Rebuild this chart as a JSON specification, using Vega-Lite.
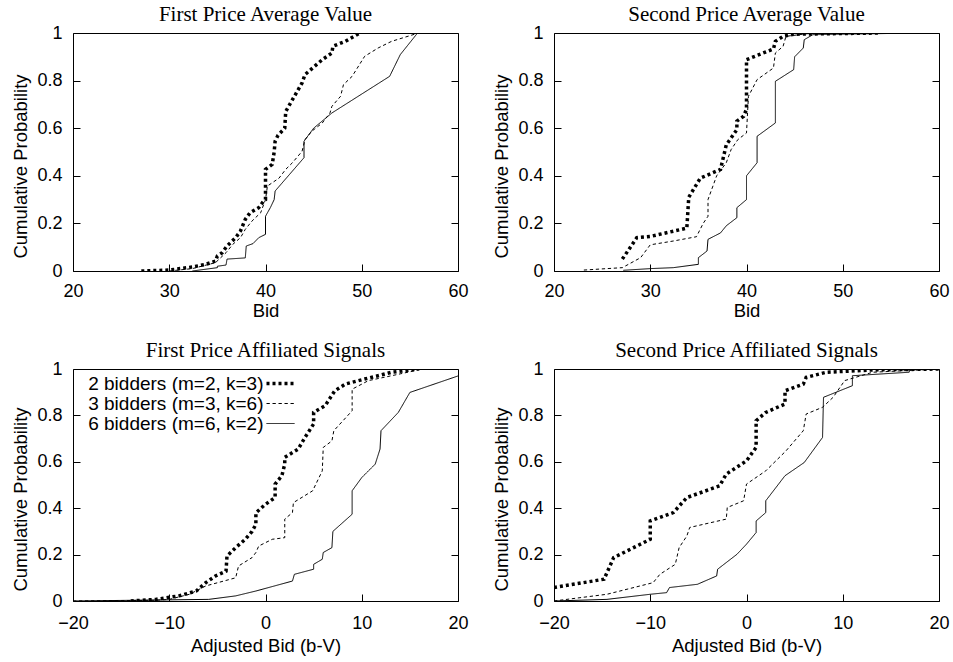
{
  "$schema": "https://vega.github.io/schema/vega-lite/v6.json",
  "padding": {"left": 10, "top": 3, "right": 5, "bottom": 2},
  "columns": 2,
  "spacing": {"row": 19, "column": 22},
  "config": {
    "view": {"stroke": "black", "strokeWidth": 1},
    "axis": {"labelFont": "Liberation Sans", "labelFontSize": 18, "titleFont": "Liberation Sans", "titleFontSize": 18.5, "titleFontWeight": "normal", "labelColor": "black", "titleColor": "black", "domain": false, "grid": false, "tickColor": "black", "tickSize": -7, "tickWidth": 1, "labelFlush": false},
    "title": {"font": "Liberation Serif", "fontSize": 21, "fontWeight": "normal", "color": "black", "offset": -1, "frame": "group", "anchor": "middle"}
  },
  "resolve": {"scale": {"x": "independent", "y": "independent"}, "legend": {"strokeDash": "independent", "strokeWidth": "independent"}},
  "datasets": {
    "fpav": [
      {"bidders": "2 bidders (m=2, k=3)", "bid": 27.1, "p": 0},
      {"bidders": "2 bidders (m=2, k=3)", "bid": 30, "p": 0.004},
      {"bidders": "2 bidders (m=2, k=3)", "bid": 32.4, "p": 0.017},
      {"bidders": "2 bidders (m=2, k=3)", "bid": 33.8, "p": 0.028},
      {"bidders": "2 bidders (m=2, k=3)", "bid": 34.8, "p": 0.042},
      {"bidders": "2 bidders (m=2, k=3)", "bid": 35, "p": 0.063},
      {"bidders": "2 bidders (m=2, k=3)", "bid": 35.5, "p": 0.077},
      {"bidders": "2 bidders (m=2, k=3)", "bid": 36, "p": 0.105},
      {"bidders": "2 bidders (m=2, k=3)", "bid": 36.9, "p": 0.14},
      {"bidders": "2 bidders (m=2, k=3)", "bid": 37.4, "p": 0.168},
      {"bidders": "2 bidders (m=2, k=3)", "bid": 37.9, "p": 0.217},
      {"bidders": "2 bidders (m=2, k=3)", "bid": 38.4, "p": 0.245},
      {"bidders": "2 bidders (m=2, k=3)", "bid": 39.3, "p": 0.266},
      {"bidders": "2 bidders (m=2, k=3)", "bid": 39.8, "p": 0.294},
      {"bidders": "2 bidders (m=2, k=3)", "bid": 40, "p": 0.3},
      {"bidders": "2 bidders (m=2, k=3)", "bid": 40, "p": 0.427},
      {"bidders": "2 bidders (m=2, k=3)", "bid": 40.7, "p": 0.448},
      {"bidders": "2 bidders (m=2, k=3)", "bid": 40.9, "p": 0.5},
      {"bidders": "2 bidders (m=2, k=3)", "bid": 41, "p": 0.545},
      {"bidders": "2 bidders (m=2, k=3)", "bid": 41.3, "p": 0.57},
      {"bidders": "2 bidders (m=2, k=3)", "bid": 42, "p": 0.6},
      {"bidders": "2 bidders (m=2, k=3)", "bid": 42.1, "p": 0.67},
      {"bidders": "2 bidders (m=2, k=3)", "bid": 42.8, "p": 0.72},
      {"bidders": "2 bidders (m=2, k=3)", "bid": 43.8, "p": 0.79},
      {"bidders": "2 bidders (m=2, k=3)", "bid": 44.1, "p": 0.825},
      {"bidders": "2 bidders (m=2, k=3)", "bid": 45.9, "p": 0.888},
      {"bidders": "2 bidders (m=2, k=3)", "bid": 46.9, "p": 0.916},
      {"bidders": "2 bidders (m=2, k=3)", "bid": 47, "p": 0.944},
      {"bidders": "2 bidders (m=2, k=3)", "bid": 48.3, "p": 0.965},
      {"bidders": "2 bidders (m=2, k=3)", "bid": 49.8, "p": 1},
      {"bidders": "3 bidders (m=3, k=6)", "bid": 30, "p": 0},
      {"bidders": "3 bidders (m=3, k=6)", "bid": 32.4, "p": 0.01},
      {"bidders": "3 bidders (m=3, k=6)", "bid": 34.8, "p": 0.035},
      {"bidders": "3 bidders (m=3, k=6)", "bid": 35.9, "p": 0.077},
      {"bidders": "3 bidders (m=3, k=6)", "bid": 36.6, "p": 0.112},
      {"bidders": "3 bidders (m=3, k=6)", "bid": 37.4, "p": 0.14},
      {"bidders": "3 bidders (m=3, k=6)", "bid": 37.9, "p": 0.175},
      {"bidders": "3 bidders (m=3, k=6)", "bid": 38.6, "p": 0.21},
      {"bidders": "3 bidders (m=3, k=6)", "bid": 39.5, "p": 0.245},
      {"bidders": "3 bidders (m=3, k=6)", "bid": 40, "p": 0.3},
      {"bidders": "3 bidders (m=3, k=6)", "bid": 40.2, "p": 0.357},
      {"bidders": "3 bidders (m=3, k=6)", "bid": 41.4, "p": 0.39},
      {"bidders": "3 bidders (m=3, k=6)", "bid": 42.1, "p": 0.427},
      {"bidders": "3 bidders (m=3, k=6)", "bid": 42.8, "p": 0.455},
      {"bidders": "3 bidders (m=3, k=6)", "bid": 43.8, "p": 0.503},
      {"bidders": "3 bidders (m=3, k=6)", "bid": 44.1, "p": 0.552},
      {"bidders": "3 bidders (m=3, k=6)", "bid": 44.8, "p": 0.587},
      {"bidders": "3 bidders (m=3, k=6)", "bid": 45.9, "p": 0.622},
      {"bidders": "3 bidders (m=3, k=6)", "bid": 46.7, "p": 0.664},
      {"bidders": "3 bidders (m=3, k=6)", "bid": 46.9, "p": 0.692},
      {"bidders": "3 bidders (m=3, k=6)", "bid": 47.8, "p": 0.734},
      {"bidders": "3 bidders (m=3, k=6)", "bid": 48.1, "p": 0.783},
      {"bidders": "3 bidders (m=3, k=6)", "bid": 49, "p": 0.818},
      {"bidders": "3 bidders (m=3, k=6)", "bid": 50.3, "p": 0.902},
      {"bidders": "3 bidders (m=3, k=6)", "bid": 51.7, "p": 0.937},
      {"bidders": "3 bidders (m=3, k=6)", "bid": 53.1, "p": 0.965},
      {"bidders": "3 bidders (m=3, k=6)", "bid": 55.9, "p": 1},
      {"bidders": "6 bidders (m=6, k=2)", "bid": 32.4, "p": 0},
      {"bidders": "6 bidders (m=6, k=2)", "bid": 35, "p": 0.014},
      {"bidders": "6 bidders (m=6, k=2)", "bid": 35, "p": 0.02},
      {"bidders": "6 bidders (m=6, k=2)", "bid": 35.9, "p": 0.025},
      {"bidders": "6 bidders (m=6, k=2)", "bid": 36, "p": 0.05},
      {"bidders": "6 bidders (m=6, k=2)", "bid": 37.9, "p": 0.055},
      {"bidders": "6 bidders (m=6, k=2)", "bid": 38, "p": 0.105},
      {"bidders": "6 bidders (m=6, k=2)", "bid": 38.7, "p": 0.115},
      {"bidders": "6 bidders (m=6, k=2)", "bid": 39.3, "p": 0.14},
      {"bidders": "6 bidders (m=6, k=2)", "bid": 40, "p": 0.154},
      {"bidders": "6 bidders (m=6, k=2)", "bid": 40, "p": 0.23},
      {"bidders": "6 bidders (m=6, k=2)", "bid": 40.5, "p": 0.266},
      {"bidders": "6 bidders (m=6, k=2)", "bid": 40.9, "p": 0.3},
      {"bidders": "6 bidders (m=6, k=2)", "bid": 41, "p": 0.336},
      {"bidders": "6 bidders (m=6, k=2)", "bid": 44, "p": 0.476},
      {"bidders": "6 bidders (m=6, k=2)", "bid": 44, "p": 0.545},
      {"bidders": "6 bidders (m=6, k=2)", "bid": 45, "p": 0.6},
      {"bidders": "6 bidders (m=6, k=2)", "bid": 46.9, "p": 0.664},
      {"bidders": "6 bidders (m=6, k=2)", "bid": 52.9, "p": 0.818},
      {"bidders": "6 bidders (m=6, k=2)", "bid": 54, "p": 0.909},
      {"bidders": "6 bidders (m=6, k=2)", "bid": 55.8, "p": 1}
    ],
    "spav": [
      {"bidders": "2 bidders (m=2, k=3)", "bid": 27.1, "p": 0.05},
      {"bidders": "2 bidders (m=2, k=3)", "bid": 28.6, "p": 0.14},
      {"bidders": "2 bidders (m=2, k=3)", "bid": 30, "p": 0.145},
      {"bidders": "2 bidders (m=2, k=3)", "bid": 33.8, "p": 0.18},
      {"bidders": "2 bidders (m=2, k=3)", "bid": 34, "p": 0.31},
      {"bidders": "2 bidders (m=2, k=3)", "bid": 35.2, "p": 0.39},
      {"bidders": "2 bidders (m=2, k=3)", "bid": 37.3, "p": 0.427},
      {"bidders": "2 bidders (m=2, k=3)", "bid": 37.9, "p": 0.53},
      {"bidders": "2 bidders (m=2, k=3)", "bid": 39, "p": 0.594},
      {"bidders": "2 bidders (m=2, k=3)", "bid": 39, "p": 0.63},
      {"bidders": "2 bidders (m=2, k=3)", "bid": 39.7, "p": 0.65},
      {"bidders": "2 bidders (m=2, k=3)", "bid": 40, "p": 0.68},
      {"bidders": "2 bidders (m=2, k=3)", "bid": 40, "p": 0.888},
      {"bidders": "2 bidders (m=2, k=3)", "bid": 42.8, "p": 0.933},
      {"bidders": "2 bidders (m=2, k=3)", "bid": 43, "p": 0.965},
      {"bidders": "2 bidders (m=2, k=3)", "bid": 43.8, "p": 0.986},
      {"bidders": "2 bidders (m=2, k=3)", "bid": 44.9, "p": 0.995},
      {"bidders": "2 bidders (m=2, k=3)", "bid": 53.7, "p": 1},
      {"bidders": "3 bidders (m=3, k=6)", "bid": 23.1, "p": 0.004},
      {"bidders": "3 bidders (m=3, k=6)", "bid": 27.1, "p": 0.014},
      {"bidders": "3 bidders (m=3, k=6)", "bid": 29, "p": 0.056},
      {"bidders": "3 bidders (m=3, k=6)", "bid": 30, "p": 0.11},
      {"bidders": "3 bidders (m=3, k=6)", "bid": 32.4, "p": 0.126},
      {"bidders": "3 bidders (m=3, k=6)", "bid": 34.8, "p": 0.144},
      {"bidders": "3 bidders (m=3, k=6)", "bid": 35.5, "p": 0.2},
      {"bidders": "3 bidders (m=3, k=6)", "bid": 36, "p": 0.23},
      {"bidders": "3 bidders (m=3, k=6)", "bid": 36, "p": 0.3},
      {"bidders": "3 bidders (m=3, k=6)", "bid": 36.9, "p": 0.4},
      {"bidders": "3 bidders (m=3, k=6)", "bid": 37.9, "p": 0.455},
      {"bidders": "3 bidders (m=3, k=6)", "bid": 38.4, "p": 0.51},
      {"bidders": "3 bidders (m=3, k=6)", "bid": 39.1, "p": 0.552},
      {"bidders": "3 bidders (m=3, k=6)", "bid": 40, "p": 0.58},
      {"bidders": "3 bidders (m=3, k=6)", "bid": 40.2, "p": 0.734},
      {"bidders": "3 bidders (m=3, k=6)", "bid": 41.1, "p": 0.804},
      {"bidders": "3 bidders (m=3, k=6)", "bid": 42.8, "p": 0.853},
      {"bidders": "3 bidders (m=3, k=6)", "bid": 43, "p": 0.916},
      {"bidders": "3 bidders (m=3, k=6)", "bid": 43.8, "p": 0.944},
      {"bidders": "3 bidders (m=3, k=6)", "bid": 44.1, "p": 0.986},
      {"bidders": "3 bidders (m=3, k=6)", "bid": 46.3, "p": 0.997},
      {"bidders": "3 bidders (m=3, k=6)", "bid": 53, "p": 1},
      {"bidders": "6 bidders (m=6, k=2)", "bid": 27.2, "p": 0.003},
      {"bidders": "6 bidders (m=6, k=2)", "bid": 30, "p": 0.01},
      {"bidders": "6 bidders (m=6, k=2)", "bid": 32.4, "p": 0.014},
      {"bidders": "6 bidders (m=6, k=2)", "bid": 35, "p": 0.028},
      {"bidders": "6 bidders (m=6, k=2)", "bid": 35, "p": 0.056},
      {"bidders": "6 bidders (m=6, k=2)", "bid": 35.9, "p": 0.084},
      {"bidders": "6 bidders (m=6, k=2)", "bid": 36, "p": 0.133},
      {"bidders": "6 bidders (m=6, k=2)", "bid": 37.3, "p": 0.16},
      {"bidders": "6 bidders (m=6, k=2)", "bid": 37.9, "p": 0.19},
      {"bidders": "6 bidders (m=6, k=2)", "bid": 39, "p": 0.224},
      {"bidders": "6 bidders (m=6, k=2)", "bid": 39, "p": 0.266},
      {"bidders": "6 bidders (m=6, k=2)", "bid": 40, "p": 0.3},
      {"bidders": "6 bidders (m=6, k=2)", "bid": 40, "p": 0.4},
      {"bidders": "6 bidders (m=6, k=2)", "bid": 41.1, "p": 0.455},
      {"bidders": "6 bidders (m=6, k=2)", "bid": 41.1, "p": 0.566},
      {"bidders": "6 bidders (m=6, k=2)", "bid": 43, "p": 0.622},
      {"bidders": "6 bidders (m=6, k=2)", "bid": 43, "p": 0.797},
      {"bidders": "6 bidders (m=6, k=2)", "bid": 44.9, "p": 0.846},
      {"bidders": "6 bidders (m=6, k=2)", "bid": 45, "p": 0.9},
      {"bidders": "6 bidders (m=6, k=2)", "bid": 45.9, "p": 0.937},
      {"bidders": "6 bidders (m=6, k=2)", "bid": 46, "p": 0.972},
      {"bidders": "6 bidders (m=6, k=2)", "bid": 46.9, "p": 0.993},
      {"bidders": "6 bidders (m=6, k=2)", "bid": 58, "p": 1}
    ],
    "fpas": [
      {"bidders": "2 bidders (m=2, k=3)", "bid": -14, "p": 0},
      {"bidders": "2 bidders (m=2, k=3)", "bid": -11.4, "p": 0.007},
      {"bidders": "2 bidders (m=2, k=3)", "bid": -9, "p": 0.022},
      {"bidders": "2 bidders (m=2, k=3)", "bid": -7.2, "p": 0.043},
      {"bidders": "2 bidders (m=2, k=3)", "bid": -6.2, "p": 0.079},
      {"bidders": "2 bidders (m=2, k=3)", "bid": -5.2, "p": 0.108},
      {"bidders": "2 bidders (m=2, k=3)", "bid": -4.1, "p": 0.129},
      {"bidders": "2 bidders (m=2, k=3)", "bid": -4, "p": 0.194},
      {"bidders": "2 bidders (m=2, k=3)", "bid": -3.1, "p": 0.23},
      {"bidders": "2 bidders (m=2, k=3)", "bid": -2.1, "p": 0.266},
      {"bidders": "2 bidders (m=2, k=3)", "bid": -1.4, "p": 0.3},
      {"bidders": "2 bidders (m=2, k=3)", "bid": -1, "p": 0.33},
      {"bidders": "2 bidders (m=2, k=3)", "bid": -1, "p": 0.38},
      {"bidders": "2 bidders (m=2, k=3)", "bid": 0, "p": 0.417},
      {"bidders": "2 bidders (m=2, k=3)", "bid": 1, "p": 0.446},
      {"bidders": "2 bidders (m=2, k=3)", "bid": 1, "p": 0.504},
      {"bidders": "2 bidders (m=2, k=3)", "bid": 1.7, "p": 0.54},
      {"bidders": "2 bidders (m=2, k=3)", "bid": 2, "p": 0.59},
      {"bidders": "2 bidders (m=2, k=3)", "bid": 2, "p": 0.619},
      {"bidders": "2 bidders (m=2, k=3)", "bid": 3.4, "p": 0.655},
      {"bidders": "2 bidders (m=2, k=3)", "bid": 4.1, "p": 0.705},
      {"bidders": "2 bidders (m=2, k=3)", "bid": 5, "p": 0.763},
      {"bidders": "2 bidders (m=2, k=3)", "bid": 5, "p": 0.813},
      {"bidders": "2 bidders (m=2, k=3)", "bid": 6.2, "p": 0.842},
      {"bidders": "2 bidders (m=2, k=3)", "bid": 7.2, "p": 0.906},
      {"bidders": "2 bidders (m=2, k=3)", "bid": 8.3, "p": 0.935},
      {"bidders": "2 bidders (m=2, k=3)", "bid": 10.3, "p": 0.957},
      {"bidders": "2 bidders (m=2, k=3)", "bid": 11.7, "p": 0.971},
      {"bidders": "2 bidders (m=2, k=3)", "bid": 13.1, "p": 0.986},
      {"bidders": "2 bidders (m=2, k=3)", "bid": 15.9, "p": 1},
      {"bidders": "3 bidders (m=3, k=6)", "bid": -20, "p": 0},
      {"bidders": "3 bidders (m=3, k=6)", "bid": -11.4, "p": 0.003},
      {"bidders": "3 bidders (m=3, k=6)", "bid": -10, "p": 0.007},
      {"bidders": "3 bidders (m=3, k=6)", "bid": -7.9, "p": 0.029},
      {"bidders": "3 bidders (m=3, k=6)", "bid": -6.2, "p": 0.065},
      {"bidders": "3 bidders (m=3, k=6)", "bid": -3.1, "p": 0.1},
      {"bidders": "3 bidders (m=3, k=6)", "bid": -2.8, "p": 0.151},
      {"bidders": "3 bidders (m=3, k=6)", "bid": -1.4, "p": 0.187},
      {"bidders": "3 bidders (m=3, k=6)", "bid": -1, "p": 0.209},
      {"bidders": "3 bidders (m=3, k=6)", "bid": -0.7, "p": 0.237},
      {"bidders": "3 bidders (m=3, k=6)", "bid": 0.7, "p": 0.266},
      {"bidders": "3 bidders (m=3, k=6)", "bid": 2, "p": 0.273},
      {"bidders": "3 bidders (m=3, k=6)", "bid": 2, "p": 0.353},
      {"bidders": "3 bidders (m=3, k=6)", "bid": 2.8, "p": 0.381},
      {"bidders": "3 bidders (m=3, k=6)", "bid": 2.9, "p": 0.424},
      {"bidders": "3 bidders (m=3, k=6)", "bid": 4.9, "p": 0.475},
      {"bidders": "3 bidders (m=3, k=6)", "bid": 5.9, "p": 0.561},
      {"bidders": "3 bidders (m=3, k=6)", "bid": 6, "p": 0.662},
      {"bidders": "3 bidders (m=3, k=6)", "bid": 6.9, "p": 0.69},
      {"bidders": "3 bidders (m=3, k=6)", "bid": 7.1, "p": 0.734},
      {"bidders": "3 bidders (m=3, k=6)", "bid": 9, "p": 0.82},
      {"bidders": "3 bidders (m=3, k=6)", "bid": 9, "p": 0.913},
      {"bidders": "3 bidders (m=3, k=6)", "bid": 10.7, "p": 0.95},
      {"bidders": "3 bidders (m=3, k=6)", "bid": 13.1, "p": 0.971},
      {"bidders": "3 bidders (m=3, k=6)", "bid": 15.9, "p": 0.996},
      {"bidders": "3 bidders (m=3, k=6)", "bid": 16.6, "p": 1},
      {"bidders": "6 bidders (m=6, k=2)", "bid": -20, "p": 0},
      {"bidders": "6 bidders (m=6, k=2)", "bid": -5.9, "p": 0.007},
      {"bidders": "6 bidders (m=6, k=2)", "bid": -3.1, "p": 0.022},
      {"bidders": "6 bidders (m=6, k=2)", "bid": -1, "p": 0.043},
      {"bidders": "6 bidders (m=6, k=2)", "bid": 2.8, "p": 0.086},
      {"bidders": "6 bidders (m=6, k=2)", "bid": 3, "p": 0.115},
      {"bidders": "6 bidders (m=6, k=2)", "bid": 5, "p": 0.137},
      {"bidders": "6 bidders (m=6, k=2)", "bid": 5, "p": 0.158},
      {"bidders": "6 bidders (m=6, k=2)", "bid": 5.9, "p": 0.18},
      {"bidders": "6 bidders (m=6, k=2)", "bid": 6, "p": 0.209},
      {"bidders": "6 bidders (m=6, k=2)", "bid": 6.9, "p": 0.23},
      {"bidders": "6 bidders (m=6, k=2)", "bid": 7, "p": 0.3},
      {"bidders": "6 bidders (m=6, k=2)", "bid": 9, "p": 0.374},
      {"bidders": "6 bidders (m=6, k=2)", "bid": 9, "p": 0.475},
      {"bidders": "6 bidders (m=6, k=2)", "bid": 10, "p": 0.532},
      {"bidders": "6 bidders (m=6, k=2)", "bid": 11.4, "p": 0.59},
      {"bidders": "6 bidders (m=6, k=2)", "bid": 11.9, "p": 0.655},
      {"bidders": "6 bidders (m=6, k=2)", "bid": 12, "p": 0.734},
      {"bidders": "6 bidders (m=6, k=2)", "bid": 13.8, "p": 0.813},
      {"bidders": "6 bidders (m=6, k=2)", "bid": 15, "p": 0.899},
      {"bidders": "6 bidders (m=6, k=2)", "bid": 20, "p": 0.97}
    ],
    "spas": [
      {"bidders": "2 bidders (m=2, k=3)", "bid": -20, "p": 0.058},
      {"bidders": "2 bidders (m=2, k=3)", "bid": -14.8, "p": 0.094},
      {"bidders": "2 bidders (m=2, k=3)", "bid": -13.8, "p": 0.187},
      {"bidders": "2 bidders (m=2, k=3)", "bid": -10, "p": 0.266},
      {"bidders": "2 bidders (m=2, k=3)", "bid": -10, "p": 0.345},
      {"bidders": "2 bidders (m=2, k=3)", "bid": -7.6, "p": 0.381},
      {"bidders": "2 bidders (m=2, k=3)", "bid": -6.2, "p": 0.446},
      {"bidders": "2 bidders (m=2, k=3)", "bid": -2.8, "p": 0.496},
      {"bidders": "2 bidders (m=2, k=3)", "bid": -2.1, "p": 0.547},
      {"bidders": "2 bidders (m=2, k=3)", "bid": 0, "p": 0.604},
      {"bidders": "2 bidders (m=2, k=3)", "bid": 1, "p": 0.662},
      {"bidders": "2 bidders (m=2, k=3)", "bid": 1, "p": 0.777},
      {"bidders": "2 bidders (m=2, k=3)", "bid": 2, "p": 0.813},
      {"bidders": "2 bidders (m=2, k=3)", "bid": 4, "p": 0.849},
      {"bidders": "2 bidders (m=2, k=3)", "bid": 4, "p": 0.906},
      {"bidders": "2 bidders (m=2, k=3)", "bid": 5.9, "p": 0.935},
      {"bidders": "2 bidders (m=2, k=3)", "bid": 6.2, "p": 0.964},
      {"bidders": "2 bidders (m=2, k=3)", "bid": 8.3, "p": 0.986},
      {"bidders": "2 bidders (m=2, k=3)", "bid": 13.1, "p": 0.996},
      {"bidders": "2 bidders (m=2, k=3)", "bid": 20, "p": 1},
      {"bidders": "3 bidders (m=3, k=6)", "bid": -20, "p": 0},
      {"bidders": "3 bidders (m=3, k=6)", "bid": -14.5, "p": 0.029},
      {"bidders": "3 bidders (m=3, k=6)", "bid": -9.7, "p": 0.079},
      {"bidders": "3 bidders (m=3, k=6)", "bid": -9, "p": 0.115},
      {"bidders": "3 bidders (m=3, k=6)", "bid": -7.4, "p": 0.158},
      {"bidders": "3 bidders (m=3, k=6)", "bid": -7, "p": 0.23},
      {"bidders": "3 bidders (m=3, k=6)", "bid": -6.2, "p": 0.28},
      {"bidders": "3 bidders (m=3, k=6)", "bid": -5.9, "p": 0.317},
      {"bidders": "3 bidders (m=3, k=6)", "bid": -2.1, "p": 0.353},
      {"bidders": "3 bidders (m=3, k=6)", "bid": -2, "p": 0.403},
      {"bidders": "3 bidders (m=3, k=6)", "bid": -0.3, "p": 0.432},
      {"bidders": "3 bidders (m=3, k=6)", "bid": 0, "p": 0.504},
      {"bidders": "3 bidders (m=3, k=6)", "bid": 2, "p": 0.561},
      {"bidders": "3 bidders (m=3, k=6)", "bid": 4.1, "p": 0.647},
      {"bidders": "3 bidders (m=3, k=6)", "bid": 5.9, "p": 0.734},
      {"bidders": "3 bidders (m=3, k=6)", "bid": 6.2, "p": 0.806},
      {"bidders": "3 bidders (m=3, k=6)", "bid": 7.9, "p": 0.835},
      {"bidders": "3 bidders (m=3, k=6)", "bid": 9, "p": 0.878},
      {"bidders": "3 bidders (m=3, k=6)", "bid": 10.2, "p": 0.95},
      {"bidders": "3 bidders (m=3, k=6)", "bid": 13.1, "p": 0.986},
      {"bidders": "3 bidders (m=3, k=6)", "bid": 20, "p": 1},
      {"bidders": "6 bidders (m=6, k=2)", "bid": -20, "p": 0},
      {"bidders": "6 bidders (m=6, k=2)", "bid": -14.5, "p": 0.007},
      {"bidders": "6 bidders (m=6, k=2)", "bid": -10, "p": 0.029},
      {"bidders": "6 bidders (m=6, k=2)", "bid": -8.3, "p": 0.036},
      {"bidders": "6 bidders (m=6, k=2)", "bid": -8, "p": 0.058},
      {"bidders": "6 bidders (m=6, k=2)", "bid": -5.1, "p": 0.072},
      {"bidders": "6 bidders (m=6, k=2)", "bid": -3.1, "p": 0.108},
      {"bidders": "6 bidders (m=6, k=2)", "bid": -3, "p": 0.137},
      {"bidders": "6 bidders (m=6, k=2)", "bid": -1, "p": 0.201},
      {"bidders": "6 bidders (m=6, k=2)", "bid": 0, "p": 0.245},
      {"bidders": "6 bidders (m=6, k=2)", "bid": 1, "p": 0.295},
      {"bidders": "6 bidders (m=6, k=2)", "bid": 1, "p": 0.345},
      {"bidders": "6 bidders (m=6, k=2)", "bid": 2, "p": 0.381},
      {"bidders": "6 bidders (m=6, k=2)", "bid": 2, "p": 0.432},
      {"bidders": "6 bidders (m=6, k=2)", "bid": 4, "p": 0.54},
      {"bidders": "6 bidders (m=6, k=2)", "bid": 6, "p": 0.597},
      {"bidders": "6 bidders (m=6, k=2)", "bid": 7.9, "p": 0.705},
      {"bidders": "6 bidders (m=6, k=2)", "bid": 8, "p": 0.878},
      {"bidders": "6 bidders (m=6, k=2)", "bid": 11, "p": 0.928},
      {"bidders": "6 bidders (m=6, k=2)", "bid": 11, "p": 0.971},
      {"bidders": "6 bidders (m=6, k=2)", "bid": 16.9, "p": 0.986},
      {"bidders": "6 bidders (m=6, k=2)", "bid": 17, "p": 1},
      {"bidders": "6 bidders (m=6, k=2)", "bid": 20, "p": 1}
    ]
  },
  "concat": [
    {
      "width": 385, "height": 238,
      "title": "First Price Average Value",
      "data": {"name": "fpav"},
      "layer": [
        {
          "mark": {"type": "line", "color": "black", "clip": true, "strokeCap": "butt"},
          "encoding": {
            "x": {"field": "bid", "type": "quantitative", "scale": {"domain": [20, 60], "nice": false, "zero": false}, "axis": {"title": "Bid", "values": [20, 30, 40, 50, 60], "format": "d", "labelPadding": 18, "minExtent": 28, "maxExtent": 28, "titlePadding": 2}},
            "y": {"field": "p", "type": "quantitative", "scale": {"domain": [0, 1], "nice": false}, "axis": {"orient": "left", "title": "Cumulative Probability", "values": [0, 0.2, 0.4, 0.6, 0.8, 1], "format": "~g", "labelPadding": 18, "minExtent": 36, "maxExtent": 36, "titlePadding": 7, "titleY": 133}},
            "strokeDash": {"field": "bidders", "type": "nominal", "scale": {"domain": ["2 bidders (m=2, k=3)", "3 bidders (m=3, k=6)", "6 bidders (m=6, k=2)"], "range": [[3, 3], [3.3, 2.7], [1, 0]]}, "legend": null},
            "strokeWidth": {"field": "bidders", "type": "nominal", "scale": {"type": "ordinal", "domain": ["2 bidders (m=2, k=3)", "3 bidders (m=3, k=6)", "6 bidders (m=6, k=2)"], "range": [3.5, 1, 1]}, "legend": null}
          }
        },
        {
          "mark": {"type": "point", "opacity": 0},
          "encoding": {
            "x": {"field": "bid", "type": "quantitative"},
            "y": {"field": "p", "type": "quantitative", "axis": {"orient": "right", "labels": false, "title": null, "values": [0, 0.2, 0.4, 0.6, 0.8, 1], "minExtent": 0, "maxExtent": 0}}
          }
        }
      ],
      "resolve": {"axis": {"y": "independent"}}
    },
    {
      "width": 385, "height": 238,
      "title": "Second Price Average Value",
      "data": {"name": "spav"},
      "layer": [
        {
          "mark": {"type": "line", "color": "black", "clip": true, "strokeCap": "butt"},
          "encoding": {
            "x": {"field": "bid", "type": "quantitative", "scale": {"domain": [20, 60], "nice": false, "zero": false}, "axis": {"title": "Bid", "values": [20, 30, 40, 50, 60], "format": "d", "labelPadding": 18, "minExtent": 28, "maxExtent": 28, "titlePadding": 2}},
            "y": {"field": "p", "type": "quantitative", "scale": {"domain": [0, 1], "nice": false}, "axis": {"orient": "left", "title": "Cumulative Probability", "values": [0, 0.2, 0.4, 0.6, 0.8, 1], "format": "~g", "labelPadding": 18, "minExtent": 36, "maxExtent": 36, "titlePadding": 7, "titleY": 133}},
            "strokeDash": {"field": "bidders", "type": "nominal", "scale": {"domain": ["2 bidders (m=2, k=3)", "3 bidders (m=3, k=6)", "6 bidders (m=6, k=2)"], "range": [[3, 3], [3.3, 2.7], [1, 0]]}, "legend": null},
            "strokeWidth": {"field": "bidders", "type": "nominal", "scale": {"type": "ordinal", "domain": ["2 bidders (m=2, k=3)", "3 bidders (m=3, k=6)", "6 bidders (m=6, k=2)"], "range": [3.5, 1, 1]}, "legend": null}
          }
        },
        {
          "mark": {"type": "point", "opacity": 0},
          "encoding": {
            "x": {"field": "bid", "type": "quantitative"},
            "y": {"field": "p", "type": "quantitative", "axis": {"orient": "right", "labels": false, "title": null, "values": [0, 0.2, 0.4, 0.6, 0.8, 1], "minExtent": 0, "maxExtent": 0}}
          }
        }
      ],
      "resolve": {"axis": {"y": "independent"}}
    },
    {
      "width": 385, "height": 232,
      "title": "First Price Affiliated Signals",
      "data": {"name": "fpas"},
      "layer": [
        {
          "mark": {"type": "line", "color": "black", "clip": true, "strokeCap": "butt"},
          "encoding": {
            "x": {"field": "bid", "type": "quantitative", "scale": {"domain": [-20, 20], "nice": false, "zero": false}, "axis": {"title": "Adjusted Bid (b-V)", "values": [-20, -10, 0, 10, 20], "format": "d", "labelPadding": 20, "minExtent": 32, "maxExtent": 32, "titlePadding": 3.5}},
            "y": {"field": "p", "type": "quantitative", "scale": {"domain": [0, 1], "nice": false}, "axis": {"orient": "left", "title": "Cumulative Probability", "values": [0, 0.2, 0.4, 0.6, 0.8, 1], "format": "~g", "labelPadding": 18, "minExtent": 36, "maxExtent": 36, "titlePadding": 7, "titleY": 130}},
            "strokeDash": {"field": "bidders", "type": "nominal", "scale": {"domain": ["2 bidders (m=2, k=3)", "3 bidders (m=3, k=6)", "6 bidders (m=6, k=2)"], "range": [[3, 3], [3.3, 2.7], [1, 0]]},
              "legend": {"title": null, "orient": "none", "legendX": 198, "legendY": 5, "padding": 0, "symbolType": "M-14,0L14,0", "symbolSize": 4, "labelFont": "Liberation Sans", "labelFontSize": 19, "labelColor": "black", "labelAlign": "right", "labelOffset": -26.5, "rowPadding": 0, "labelLimit": 0}},
            "strokeWidth": {"field": "bidders", "type": "nominal", "scale": {"type": "ordinal", "domain": ["2 bidders (m=2, k=3)", "3 bidders (m=3, k=6)", "6 bidders (m=6, k=2)"], "range": [3.5, 1, 1]},
              "legend": {"title": null, "orient": "none", "legendX": 198, "legendY": 5, "padding": 0, "symbolType": "M-14,0L14,0", "symbolSize": 4, "labelFont": "Liberation Sans", "labelFontSize": 19, "labelColor": "black", "labelAlign": "right", "labelOffset": -26.5, "rowPadding": 0, "labelLimit": 0}}
          }
        },
        {
          "mark": {"type": "point", "opacity": 0},
          "encoding": {
            "x": {"field": "bid", "type": "quantitative"},
            "y": {"field": "p", "type": "quantitative", "axis": {"orient": "right", "labels": false, "title": null, "values": [0, 0.2, 0.4, 0.6, 0.8, 1], "minExtent": 0, "maxExtent": 0}}
          }
        }
      ],
      "resolve": {"axis": {"y": "independent"}}
    },
    {
      "width": 385, "height": 232,
      "title": "Second Price Affiliated Signals",
      "data": {"name": "spas"},
      "layer": [
        {
          "mark": {"type": "line", "color": "black", "clip": true, "strokeCap": "butt"},
          "encoding": {
            "x": {"field": "bid", "type": "quantitative", "scale": {"domain": [-20, 20], "nice": false, "zero": false}, "axis": {"title": "Adjusted Bid (b-V)", "values": [-20, -10, 0, 10, 20], "format": "d", "labelPadding": 20, "minExtent": 32, "maxExtent": 32, "titlePadding": 3.5}},
            "y": {"field": "p", "type": "quantitative", "scale": {"domain": [0, 1], "nice": false}, "axis": {"orient": "left", "title": "Cumulative Probability", "values": [0, 0.2, 0.4, 0.6, 0.8, 1], "format": "~g", "labelPadding": 18, "minExtent": 36, "maxExtent": 36, "titlePadding": 7, "titleY": 130}},
            "strokeDash": {"field": "bidders", "type": "nominal", "scale": {"domain": ["2 bidders (m=2, k=3)", "3 bidders (m=3, k=6)", "6 bidders (m=6, k=2)"], "range": [[3, 3], [3.3, 2.7], [1, 0]]}, "legend": null},
            "strokeWidth": {"field": "bidders", "type": "nominal", "scale": {"type": "ordinal", "domain": ["2 bidders (m=2, k=3)", "3 bidders (m=3, k=6)", "6 bidders (m=6, k=2)"], "range": [3.5, 1, 1]}, "legend": null}
          }
        },
        {
          "mark": {"type": "point", "opacity": 0},
          "encoding": {
            "x": {"field": "bid", "type": "quantitative"},
            "y": {"field": "p", "type": "quantitative", "axis": {"orient": "right", "labels": false, "title": null, "values": [0, 0.2, 0.4, 0.6, 0.8, 1], "minExtent": 0, "maxExtent": 0}}
          }
        }
      ],
      "resolve": {"axis": {"y": "independent"}}
    }
  ]
}
